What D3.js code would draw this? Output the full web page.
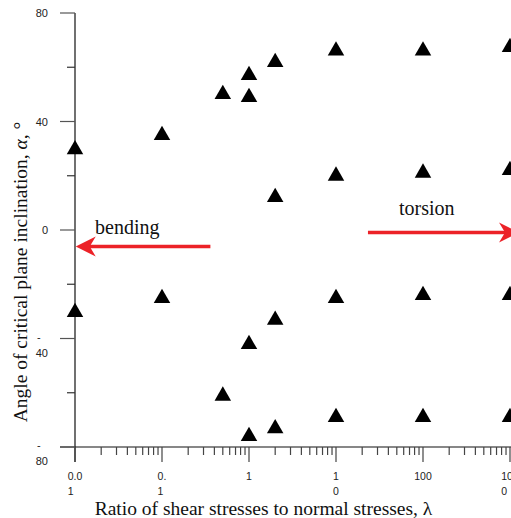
<!DOCTYPE html>
<html>
<head>
<meta charset="utf-8">
<script src="https://cdn.jsdelivr.net/npm/d3@7"></script>
<style>
  body { margin: 0; background: #fff; }
  svg { display: block; }
</style>
</head>
<body>
<div id="chart"></div>
<script>
var width = 511, height = 518;

// data: ratio lambda vs critical plane angle alpha
var lambdas = [0.01, 0.01, 0.1, 0.1, 0.5, 0.5, 1, 1, 1, 1, 2, 2, 2, 2,
               10, 10, 10, 10, 100, 100, 100, 100, 1000, 1000, 1000, 1000];
var alphas  = [30.5, -29.5, 35.8, -24.3, 50.9, -60.3, 57.9, 49.8, -41.3, -75.2, 62.7, 12.9, -32.3, -72.3,
               66.9, 20.8, -24.3, -68.2, 66.9, 21.9, -23.2, -68.2, 68.2, 22.9, -23.2, -68.2];

var xTickValues = [0.01, 0.1, 1, 10, 100, 1000];
var xTickLabels = [["0.0", "1"], ["0.", "1"], ["1"], ["1", "0"], ["100"], ["100", "0"]];
var yTickValues = [80, 40, 0, -40, -80];
var yTickLabels = [["80"], ["40"], ["0"], ["-", "40"], ["-", "80"]];
var yMinorTicks = [60, 20, -20, -60];

// arrows: [from lambda, to lambda, alpha]
var arrowBending = [0.36, 0.0102, -6.1];
var arrowTorsion = [23.3, 1270, -0.9];

var svg = d3.select("#chart").append("svg")
  .attr("width", width)
  .attr("height", height);

// Scales
var x = d3.scaleLog().domain([0.01, 1000]).range([75, 510]);
var y = d3.scaleLinear().domain([-80, 80]).range([447, 13]);

// minor ticks of the log axis (2..9 in each decade)
var xMinor = [];
[0.01, 0.1, 1, 10, 100].forEach(function(d) {
  for (var k = 2; k <= 9; k++) xMinor.push(d * k);
});

var axisColor = "#111";

// x axis line
svg.append("line")
  .attr("x1", 60).attr("x2", width)
  .attr("y1", y(-80)).attr("y2", y(-80))
  .attr("stroke", axisColor).attr("stroke-width", 1.2);

// y axis line (runs below the x axis like a major tick)
svg.append("line")
  .attr("x1", x(0.01)).attr("x2", x(0.01))
  .attr("y1", y(80)).attr("y2", y(-80) + 15)
  .attr("stroke", axisColor).attr("stroke-width", 1.2);

// x ticks
svg.selectAll(".xmajor").data(xTickValues).enter()
  .append("line")
  .attr("x1", function(d) { return x(d); })
  .attr("x2", function(d) { return x(d); })
  .attr("y1", y(-80)).attr("y2", y(-80) + 15)
  .attr("stroke", "#444").attr("stroke-width", 1.2);

svg.selectAll(".xminor").data(xMinor).enter()
  .append("line")
  .attr("x1", function(d) { return x(d); })
  .attr("x2", function(d) { return x(d); })
  .attr("y1", y(-80)).attr("y2", y(-80) + 8)
  .attr("stroke", "#444").attr("stroke-width", 1.2);

// y ticks
svg.selectAll(".ymajor").data(yTickValues).enter()
  .append("line")
  .attr("x1", 60).attr("x2", x(0.01))
  .attr("y1", function(d) { return y(d); })
  .attr("y2", function(d) { return y(d); })
  .attr("stroke", "#555").attr("stroke-width", 1.2);

svg.selectAll(".yminor").data(yMinorTicks).enter()
  .append("line")
  .attr("x1", 67).attr("x2", x(0.01))
  .attr("y1", function(d) { return y(d); })
  .attr("y2", function(d) { return y(d); })
  .attr("stroke", "#333").attr("stroke-width", 1.2);

// x tick labels (wrapped like the original)
svg.selectAll(".xlab").data(xTickValues).enter()
  .append("text")
  .attr("font-family", "Liberation Sans, Arial, sans-serif")
  .attr("font-size", 10.5)
  .attr("fill", "#222")
  .each(function(d, i) {
    var t = d3.select(this);
    var lines = xTickLabels[i];
    var first = t.append("tspan").text(lines[0])
      .attr("x", x(d)).attr("y", 480).attr("text-anchor", "middle");
    if (lines.length > 1) {
      var w = first.node().getComputedTextLength();
      t.append("tspan").text(lines[1])
        .attr("x", x(d) - w / 2).attr("y", 495).attr("text-anchor", "start");
    }
  });

// y tick labels
svg.selectAll(".ylab").data(yTickValues).enter()
  .append("text")
  .attr("font-family", "Liberation Sans, Arial, sans-serif")
  .attr("font-size", 11)
  .attr("fill", "#222")
  .each(function(d, i) {
    var t = d3.select(this);
    var lines = yTickLabels[i];
    if (lines.length === 1) {
      t.append("tspan").text(lines[0])
        .attr("x", 48).attr("y", y(d) + 4).attr("text-anchor", "end");
    } else {
      t.append("tspan").text(lines[0])
        .attr("x", 37).attr("y", y(d) + 2).attr("text-anchor", "start");
      t.append("tspan").text(lines[1])
        .attr("x", 48).attr("y", y(d) + 18).attr("text-anchor", "end");
    }
  });

// points
var tri = d3.symbol().type(d3.symbolTriangle).size(118);
svg.selectAll(".pt").data(lambdas).enter()
  .append("path")
  .attr("d", tri)
  .attr("transform", function(d, i) {
    return "translate(" + x(d) + "," + (y(alphas[i]) + 2.3) + ")";
  })
  .attr("fill", "#000");

// arrows
var red = "#ec2228";
function arrow(a) {
  var x0 = x(a[0]), x1 = x(a[1]), yy = y(a[2]);
  var dir = x1 > x0 ? 1 : -1;
  var g = svg.append("g");
  g.append("line")
    .attr("x1", x0).attr("x2", x1 - dir * 8)
    .attr("y1", yy).attr("y2", yy)
    .attr("stroke", red).attr("stroke-width", 3.6);
  var p = d3.path();
  p.moveTo(x1, yy);
  p.lineTo(x1 - dir * 20, yy - 10);
  p.lineTo(x1 - dir * 14, yy);
  p.lineTo(x1 - dir * 20, yy + 10);
  p.closePath();
  g.append("path").attr("d", p.toString()).attr("fill", red);
}
arrow(arrowBending);
arrow(arrowTorsion);

var serif = "Liberation Serif, Times New Roman, serif";

svg.append("text")
  .attr("x", 95).attr("y", 234)
  .attr("font-family", serif).attr("font-size", 20)
  .attr("fill", "#111")
  .text("bending");

svg.append("text")
  .attr("x", 399).attr("y", 215)
  .attr("font-family", serif).attr("font-size", 20)
  .attr("fill", "#111")
  .text("torsion");

// axis titles
svg.append("text")
  .attr("x", 263.5).attr("y", 515)
  .attr("text-anchor", "middle")
  .attr("font-family", serif).attr("font-size", 19.5)
  .attr("fill", "#111")
  .text("Ratio of shear stresses to normal stresses, λ");

var yt = svg.append("text")
  .attr("transform", "translate(27,272) rotate(-90)")
  .attr("text-anchor", "middle")
  .attr("font-family", serif).attr("font-size", 19.5)
  .attr("fill", "#111");
yt.append("tspan").text("Angle of critical plane inclination, ");
yt.append("tspan").attr("font-style", "italic").text("α");
yt.append("tspan").text(", °");
</script>
</body>
</html>
